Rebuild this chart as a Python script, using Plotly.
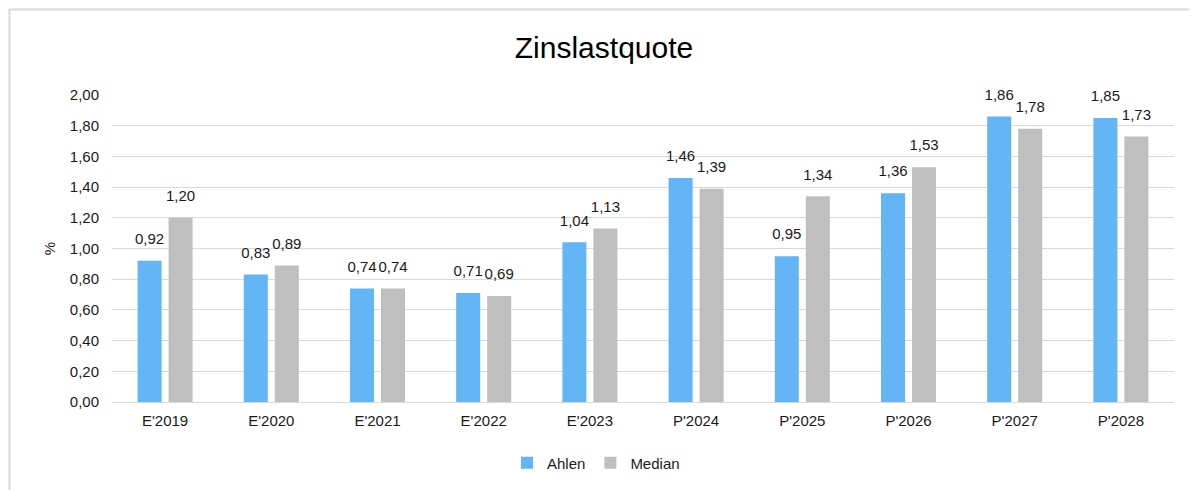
import plotly.graph_objects as go

categories = ["E'2019", "E'2020", "E'2021", "E'2022", "E'2023",
              "P'2024", "P'2025", "P'2026", "P'2027", "P'2028"]
ahlen = [0.92, 0.83, 0.74, 0.71, 1.04, 1.46, 0.95, 1.36, 1.86, 1.85]
median = [1.20, 0.89, 0.74, 0.69, 1.13, 1.39, 1.34, 1.53, 1.78, 1.73]
y_ticks = [0.0, 0.2, 0.4, 0.6, 0.8, 1.0, 1.2, 1.4, 1.6, 1.8, 2.0]

FONT = "Liberation Sans, Arial, sans-serif"
TXT = "#1a1a1a"
LABEL_PAD = 0.07  # invisible spacer (axis units) lifting labels above bars

# page body adds an 8px offset; plot area target: x 112..1174, y 95..402
OFF = 8
L, T = 112 - OFF, 95 - OFF
PW, PH = 1062, 307
R = 1197 - L - PW
B = 490 - T - PH

fig = go.Figure()
for name, vals, color, grp in [("Ahlen", ahlen, "#63b5f6", "a"),
                               ("Median", median, "#bfbfbf", "m")]:
    fig.add_trace(go.Bar(
        name=name, x=categories, y=vals, marker_color=color,
        marker_line_width=0, offsetgroup=grp, hoverinfo="x+y",
    ))
    fig.add_trace(go.Bar(
        name=name + " labels", x=categories, y=[LABEL_PAD] * len(vals),
        base=vals, customdata=vals, offsetgroup=grp,
        marker_color="rgba(0,0,0,0)", marker_line_width=0,
        texttemplate="%{customdata:.2f}", textposition="outside",
        constraintext="none", cliponaxis=False, showlegend=False,
        hoverinfo="skip",
        textfont=dict(size=15, color=TXT, family=FONT),
    ))

fig.update_layout(
    width=1197, height=490,
    margin=dict(l=L, r=R, t=T, b=B, autoexpand=False),
    paper_bgcolor="white", plot_bgcolor="white",
    separators=",.",
    font=dict(family=FONT, size=15, color=TXT),
    barmode="group", bargap=0.416, bargroupgap=0.226,
    title=dict(text="Zinslastquote", xref="paper", x=(604 - 112) / PW,
               xanchor="center", yref="container",
               y=1 - (47 - OFF) / 490, yanchor="middle",
               font=dict(size=30, family=FONT, color="#000000")),
    showlegend=True,
    legend=dict(orientation="h", x=(596 - 112) / PW, xanchor="center",
                y=(402 - 463) / PH, yanchor="middle",
                font=dict(size=15, family=FONT, color=TXT),
                itemwidth=30, traceorder="normal"),
)
fig.update_yaxes(
    range=[0, 2.0], tickvals=y_ticks, tickformat=".2f",
    showgrid=True, gridcolor="#d9d9d9", gridwidth=1,
    zeroline=True, zerolinecolor="#d9d9d9", zerolinewidth=1,
    showline=False, ticks="", ticklabelstandoff=12,
    title=dict(text="%", standoff=10, font=dict(size=15, family=FONT, color=TXT)),
    tickfont=dict(size=15, family=FONT, color=TXT),
)
fig.update_xaxes(
    showgrid=False, showline=False, ticks="", tickangle=0,
    ticklabelstandoff=8,
    tickfont=dict(size=15, family=FONT, color=TXT),
)

# outer chart frame (left and top edges visible)
fig.add_shape(type="line", xref="paper", yref="paper",
              x0=(9.5 - 112) / PW, x1=(9.5 - 112) / PW,
              y0=(402 - 500) / PH, y1=(402 - 9.5) / PH,
              line=dict(color="#d9d9d9", width=2))
fig.add_shape(type="line", xref="paper", yref="paper",
              x0=(8.5 - 112) / PW, x1=(1210 - 112) / PW,
              y0=(402 - 9.5) / PH, y1=(402 - 9.5) / PH,
              line=dict(color="#d9d9d9", width=2))

fig.write_html("out.html")
